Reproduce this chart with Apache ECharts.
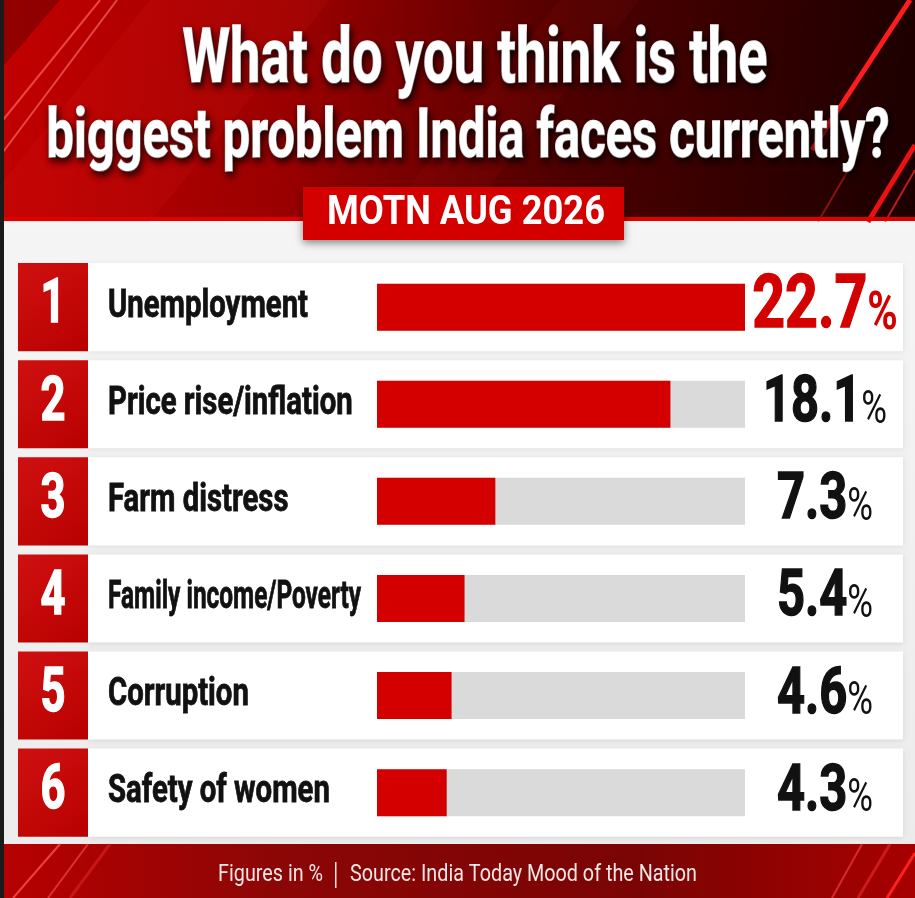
<!DOCTYPE html>
<html>
<head>
<meta charset="utf-8">
<script src="https://cdn.jsdelivr.net/npm/echarts@6/dist/echarts.min.js"></script>
<style>
html,body{margin:0;padding:0;background:#efefef;}
#chart{width:915px;height:898px;}
</style>
</head>
<body>
<div id="chart"></div>
<script>
// ---- data ----
const ranks = ['1', '2', '3', '4', '5', '6'];
const categories = ['Unemployment', 'Price rise/inflation', 'Farm distress', 'Family income/Poverty', 'Corruption', 'Safety of women'];
const values = [22.7, 18.1, 7.3, 5.4, 4.6, 4.3];
const valueLabels = ['22.7', '18.1', '7.3', '5.4', '4.6', '4.3'];
const titleLines = ['What do you think is the', 'biggest problem India faces currently?'];
const badgeText = 'MOTN AUG 2026';
const footerLeft = 'Figures in %';
const footerRight = 'Source: India Today Mood of the Nation';

const FONT = 'Roboto, "Noto Sans", sans-serif';
const RED = '#d40000';
const xMax = Math.max.apply(null, values);

// text measuring to emulate the condensed typeface
const mctx = document.createElement('canvas').getContext('2d');
function textW(text, font) { mctx.font = font; return mctx.measureText(text).width; }
function fit(text, font, w) { return w / textW(text, font); }

const F_T1 = 'bold 76px ' + FONT, F_T2 = 'bold 68px ' + FONT;
const sT1 = fit(titleLines[0], F_T1, 585);
const sT2 = fit(titleLines[1], F_T2, 843);
const F_LAB = 'bold 38px ' + FONT;
const sLab0 = fit(categories[0], F_LAB, 200);
const LAB_MAX_W = 253;
const F_RANK = 'bold 61px ' + FONT;
const sRank = fit('2', F_RANK, 25);
const N_BIG = 75, P_BIG = 54, N_SM = 64, P_SM = 46;
const sVal = 124 / (textW(valueLabels[1], 'bold ' + N_SM + 'px ' + FONT) + textW('%', P_SM + 'px ' + FONT));
const F_BADGE = 'bold 41px ' + FONT;
const sBadge = fit(badgeText, F_BADGE, 278);
const F_FOOT = '23px ' + FONT;
const sFoot = fit(footerRight, F_FOOT, 347);

const chart = echarts.init(document.getElementById('chart'), null, {renderer: 'canvas'});

function renderRow(params, api) {
  const i = params.dataIndex;
  const cy = api.coord([0, i])[1];
  const band = api.size([0, 1])[1];
  const h = band - 9;
  const sLab = Math.min(sLab0, fit(categories[i], F_LAB, LAB_MAX_W));
  return {
    type: 'group',
    children: [
      {type: 'rect', shape: {x: 88, y: cy - h / 2, width: 815, height: h},
       style: {fill: '#ffffff', shadowBlur: 5, shadowColor: 'rgba(0,0,0,0.10)', shadowOffsetY: 1}},
      {type: 'rect', shape: {x: 18, y: cy - h / 2, width: 70, height: h},
       style: {fill: new echarts.graphic.LinearGradient(0, 0, 1, 1, [
         {offset: 0, color: '#d01010'}, {offset: 1, color: '#b80000'}])}},
      {type: 'text', x: 53, y: cy, scaleX: sRank,
       style: {text: ranks[i], x: 0, y: 0, align: 'center', verticalAlign: 'middle',
               fill: '#ffffff', stroke: '#ffffff', lineWidth: 1.5, font: F_RANK}},
      {type: 'text', x: 108, y: cy, scaleX: sLab,
       style: {text: categories[i], x: 0, y: 0, align: 'left', verticalAlign: 'middle',
               fill: '#111111', stroke: '#111111', lineWidth: 0.8, font: F_LAB}}
    ]
  };
}

function renderValue(params, api) {
  const i = params.dataIndex;
  const p = api.coord([xMax, i]);
  const big = i === 0;
  const col = big ? RED : '#111111';
  return {
    type: 'text', x: p[0] + 80, y: p[1] + 1, scaleX: sVal,
    style: {
      text: '{n|' + valueLabels[i] + '}{p|%}', x: 0, y: 0, align: 'center', verticalAlign: 'middle',
      rich: {
        n: {fill: col, stroke: col, lineWidth: 1.5, fontFamily: FONT, fontWeight: 'bold', fontSize: big ? N_BIG : N_SM, verticalAlign: 'bottom'},
        p: {fill: col, fontFamily: FONT, fontWeight: big ? 'bold' : 'normal', fontSize: big ? P_BIG : P_SM, verticalAlign: 'bottom', padding: [0, 0, 3, 0]}
      }
    }
  };
}

const graphics = [
  // header background
  {type: 'rect', z: -20, shape: {x: 0, y: 0, width: 915, height: 222},
   style: {fill: new echarts.graphic.LinearGradient(0, 0.3, 1, 0.7, [
     {offset: 0, color: '#c20000'}, {offset: 0.32, color: '#9a0000'},
     {offset: 0.62, color: '#4e0000'}, {offset: 1, color: '#1c0000'}])}},
  {type: 'polygon', z: -19, shape: {points: [[0, 0], [60, 0], [0, 70]]}, style: {fill: 'rgba(60,0,0,0.35)'}},
  {type: 'polygon', z: -19, shape: {points: [[150, 0], [330, 0], [150, 222], [-30, 222]]}, style: {fill: 'rgba(255,40,40,0.10)'}},
  {type: 'polygon', z: -19, shape: {points: [[560, 0], [640, 0], [460, 222], [380, 222]]}, style: {fill: 'rgba(255,30,30,0.06)'}},
  {type: 'line', z: -18, shape: {x1: 100, y1: 0, x2: 3, y2: 120}, style: {stroke: 'rgba(255,90,90,0.75)', lineWidth: 2}},
  {type: 'line', z: -18, shape: {x1: 117, y1: 0, x2: 3, y2: 152}, style: {stroke: 'rgba(255,120,120,0.6)', lineWidth: 2}},
  {type: 'line', z: -18, shape: {x1: 910, y1: 0, x2: 812, y2: 150}, style: {stroke: '#ff1c1c', lineWidth: 5}},
  {type: 'line', z: -18, shape: {x1: 915, y1: 145, x2: 868, y2: 222}, style: {stroke: '#f01010', lineWidth: 5}},
  {type: 'line', z: -18, shape: {x1: 915, y1: 170, x2: 885, y2: 222}, style: {stroke: 'rgba(255,40,40,0.7)', lineWidth: 2}},
  {type: 'line', z: -18, shape: {x1: 860, y1: 150, x2: 818, y2: 222}, style: {stroke: 'rgba(255,40,40,0.45)', lineWidth: 2}},
  {type: 'rect', z: -17, shape: {x: 0, y: 217, width: 915, height: 4}, style: {fill: '#e00000'}},
  // light panel
  {type: 'rect', z: -20, shape: {x: 0, y: 221, width: 915, height: 623},
   style: {fill: new echarts.graphic.LinearGradient(0, 0, 0, 1, [
     {offset: 0, color: '#f5f5f5'}, {offset: 1, color: '#ececec'}])}},
  {type: 'rect', z: -16, shape: {x: 0, y: 0, width: 4, height: 898}, style: {fill: '#1a1a1a'}},
  // footer
  {type: 'rect', z: -20, shape: {x: 0, y: 844, width: 915, height: 54},
   style: {fill: new echarts.graphic.LinearGradient(0, 0, 1, 0, [
     {offset: 0, color: '#b80000'}, {offset: 0.3, color: '#8c0606'},
     {offset: 0.7, color: '#7a0404'}, {offset: 1, color: '#a80000'}])}},
  {type: 'line', z: -18, shape: {x1: 13, y1: 898, x2: 60, y2: 844}, style: {stroke: 'rgba(255,80,80,0.8)', lineWidth: 2}},
  {type: 'line', z: -18, shape: {x1: 48, y1: 898, x2: 88, y2: 844}, style: {stroke: 'rgba(255,80,80,0.6)', lineWidth: 2}},
  {type: 'line', z: -18, shape: {x1: 70, y1: 898, x2: 110, y2: 844}, style: {stroke: 'rgba(255,60,60,0.35)', lineWidth: 3}},
  {type: 'line', z: -18, shape: {x1: 832, y1: 898, x2: 862, y2: 844}, style: {stroke: 'rgba(255,70,70,0.6)', lineWidth: 2}},
  {type: 'line', z: -18, shape: {x1: 858, y1: 898, x2: 890, y2: 844}, style: {stroke: 'rgba(255,60,60,0.45)', lineWidth: 3}},
  {type: 'line', z: -18, shape: {x1: 887, y1: 898, x2: 915, y2: 853}, style: {stroke: '#ff2020', lineWidth: 3}},
  // title
  {type: 'text', x: 475, y: 63, scaleX: sT1, z: 10,
   style: {text: titleLines[0], x: 0, y: 0, align: 'center', verticalAlign: 'middle', fill: '#ffffff',
           stroke: '#ffffff', lineWidth: 1.5,
           font: F_T1, textShadowColor: 'rgba(0,0,0,0.8)', textShadowBlur: 7, textShadowOffsetX: 2, textShadowOffsetY: 4}},
  {type: 'text', x: 468, y: 140, scaleX: sT2, z: 10,
   style: {text: titleLines[1], x: 0, y: 0, align: 'center', verticalAlign: 'middle', fill: '#ffffff',
           stroke: '#ffffff', lineWidth: 1.5,
           font: F_T2, textShadowColor: 'rgba(0,0,0,0.8)', textShadowBlur: 7, textShadowOffsetX: 2, textShadowOffsetY: 4}},
  // badge
  {type: 'rect', z: 5, shape: {x: 303, y: 187, width: 321, height: 53},
   style: {fill: RED, shadowBlur: 8, shadowColor: 'rgba(0,0,0,0.45)', shadowOffsetY: 3}},
  {type: 'text', x: 466, y: 214, z: 6, scaleX: sBadge,
   style: {text: badgeText, x: 0, y: 0, align: 'center', verticalAlign: 'middle', fill: '#ffffff', font: F_BADGE}},
  // footer text
  {type: 'text', x: 323, y: 875, z: 6, scaleX: sFoot,
   style: {text: footerLeft, x: 0, y: 0, align: 'right', verticalAlign: 'middle', fill: '#f2e6e6', font: F_FOOT}},
  {type: 'rect', z: 6, shape: {x: 335, y: 862, width: 1.5, height: 26}, style: {fill: '#f2e6e6'}},
  {type: 'text', x: 350, y: 875, z: 6, scaleX: sFoot,
   style: {text: footerRight, x: 0, y: 0, align: 'left', verticalAlign: 'middle', fill: '#f2e6e6', font: F_FOOT}}
];

chart.setOption({
  backgroundColor: '#efefef',
  animation: false,
  graphic: {elements: graphics},
  grid: {left: 377, right: 170, top: 258.6, bottom: 56.8, containLabel: false},
  xAxis: {type: 'value', min: 0, max: xMax, show: false},
  yAxis: {type: 'category', inverse: true, data: categories, show: false},
  series: [
    {type: 'custom', name: 'rows', z: 1, renderItem: renderRow,
     data: values.map((v, i) => [v, i]), encode: {x: 0, y: 1}, silent: true},
    {type: 'bar', name: 'share', z: 3, data: values, barWidth: 47,
     itemStyle: {color: RED},
     showBackground: true, backgroundStyle: {color: '#dadada'}},
    {type: 'custom', name: 'values', z: 4, renderItem: renderValue,
     data: values.map((v, i) => [v, i]), encode: {x: 0, y: 1}, silent: true}
  ]
});
</script>
</body>
</html>
